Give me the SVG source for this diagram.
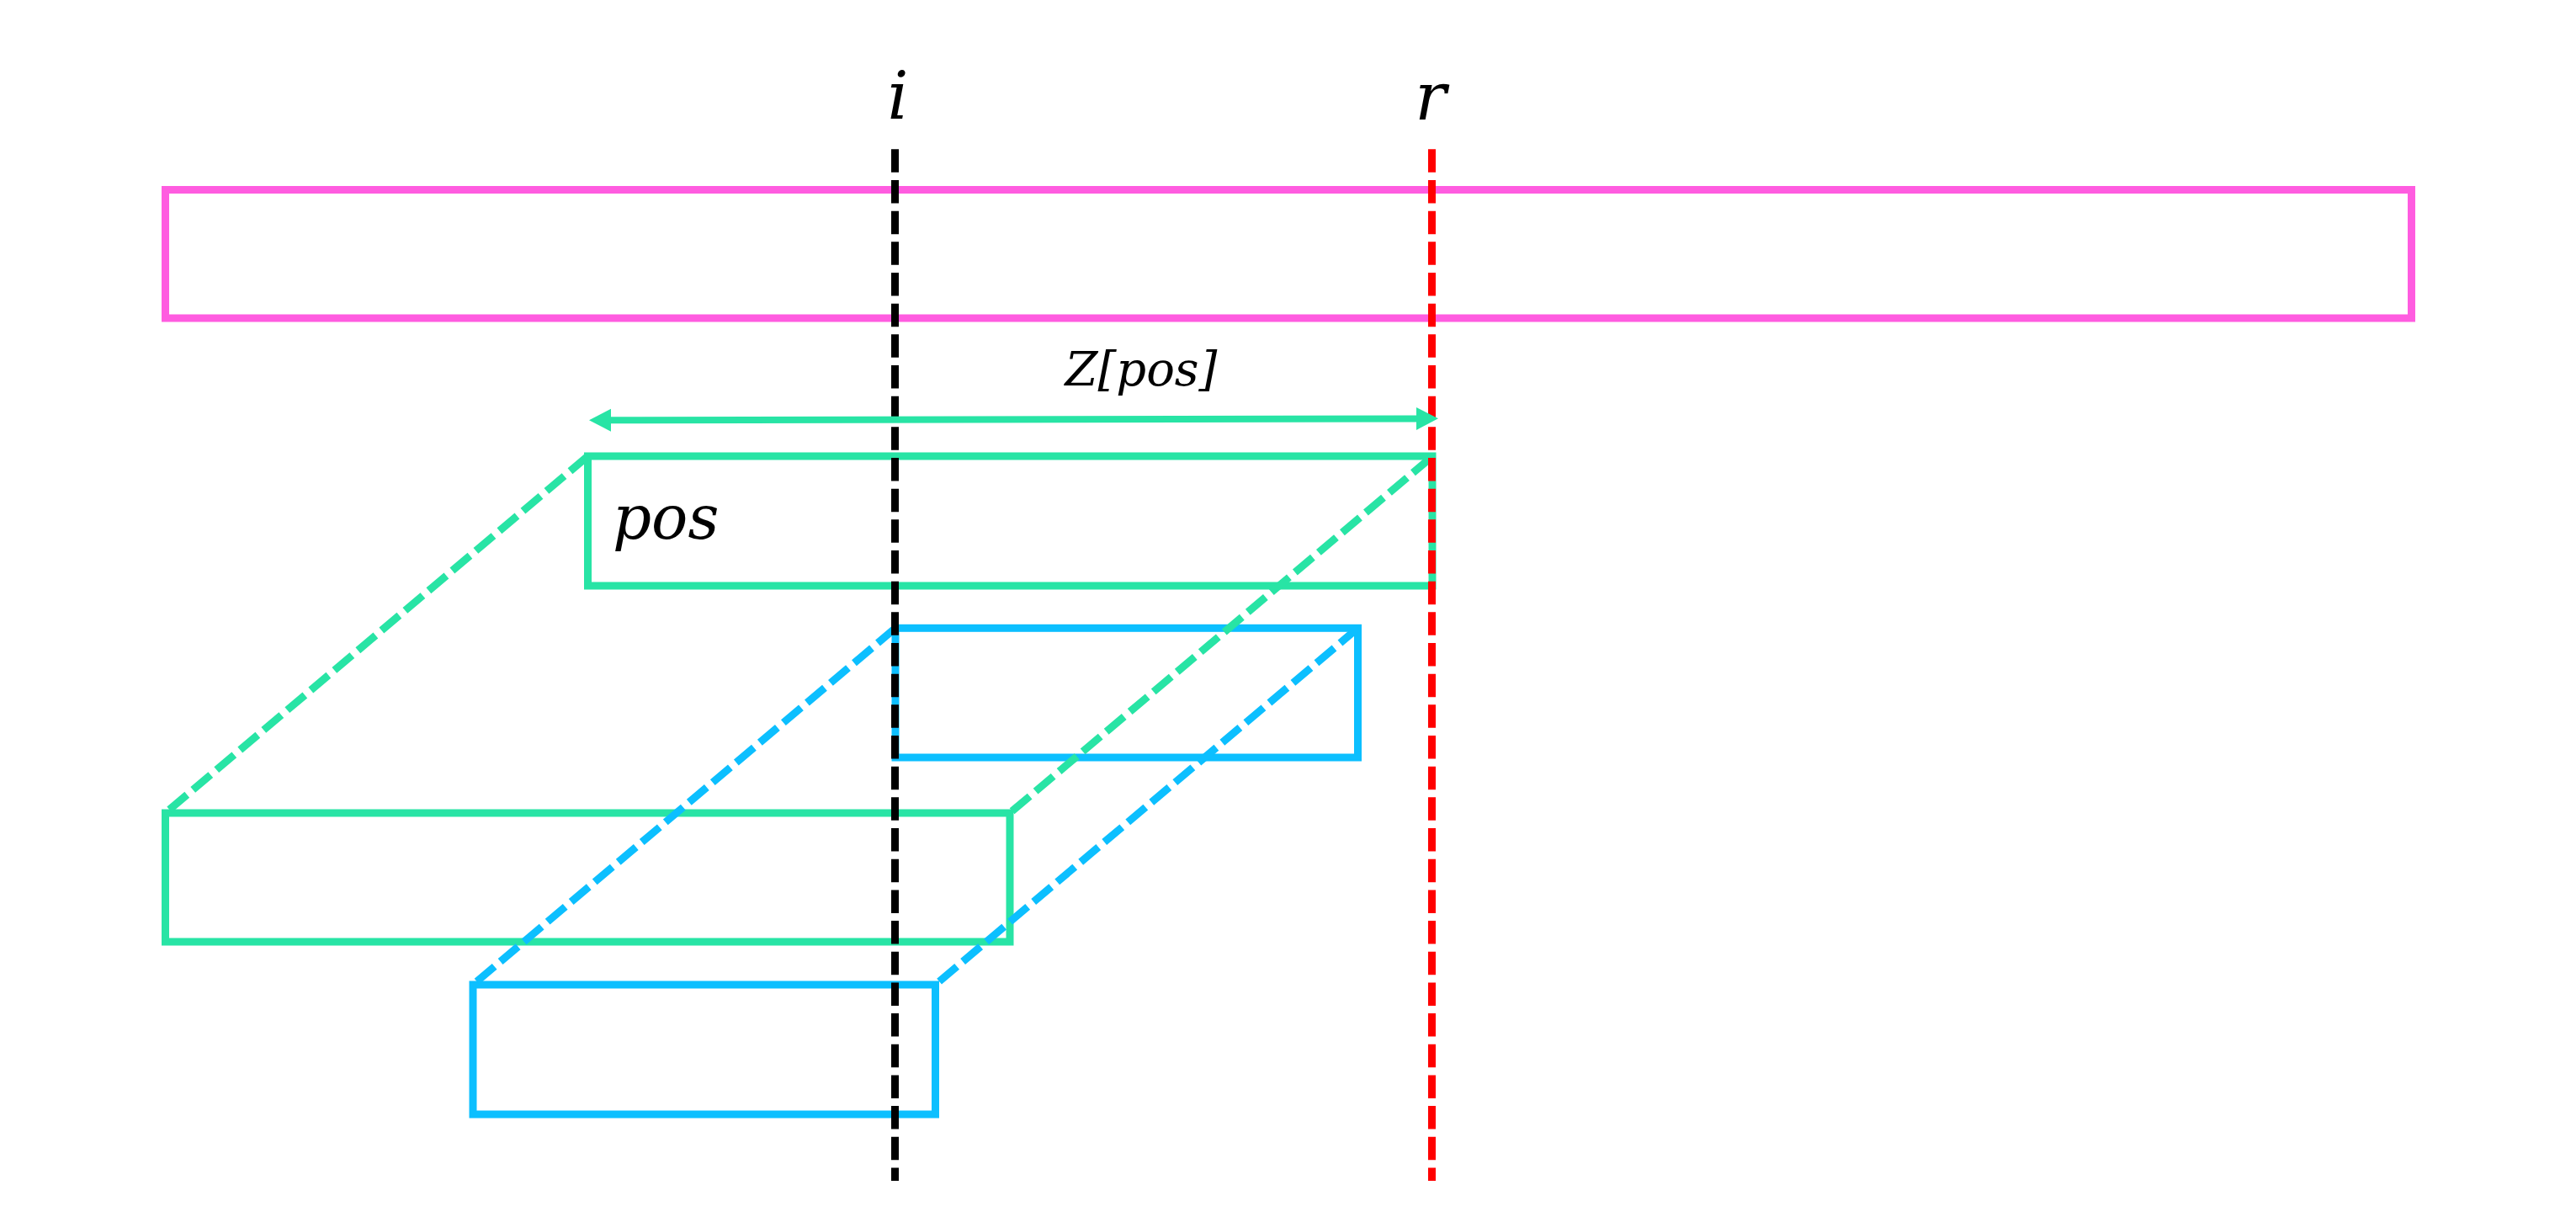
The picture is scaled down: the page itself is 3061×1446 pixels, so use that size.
<svg xmlns="http://www.w3.org/2000/svg" width="3061" height="1446" viewBox="0 0 3061 1446">
  <style>
    .box { fill: none; stroke-width: 9; }
    .pink { stroke: #FF5CE0; }
    .green { stroke: #28E4A5; }
    .blue { stroke: #0CBFFF; }
    .dash { fill: none; stroke-width: 9; stroke-dasharray: 27.5 9.17; }
  </style>
  <defs>
    <marker id="head" markerUnits="userSpaceOnUse" markerWidth="28" markerHeight="28" refX="0" refY="13.5" orient="auto-start-reverse" viewBox="0 0 28 27">
      <path d="M0,0 L26,13.5 L0,27 Z" fill="#28E4A5"/>
    </marker>
  </defs>
  <rect width="3061" height="1446" fill="#FFFFFF"/>

  <g id="nodes">
    <g id="string-bar"><rect class="box pink" x="196.5" y="225.5" width="2669" height="152.5"/></g>
    <g id="green-top"><rect class="box green" x="698.5" y="542" width="1003.5" height="154"/></g>
    <g id="green-bottom"><rect class="box green" x="196.5" y="966" width="1003.5" height="153"/></g>
    <g id="blue-top"><rect class="box blue" x="1064" y="746.3" width="549.5" height="153.7"/></g>
    <g id="blue-bottom"><rect class="box blue" x="562" y="1170" width="549.5" height="154"/></g>
  </g>

  <g id="connectors">
    <line class="dash green" x1="698.5" y1="542" x2="196.5" y2="966"/>
    <line class="dash green" x1="1700" y1="544" x2="1200" y2="966"/>
    <line class="dash blue" x1="1064" y1="746.3" x2="562" y2="1170"/>
    <line class="dash blue" x1="1613.5" y1="746.3" x2="1111.5" y2="1170"/>
    <line class="dash" stroke="#FF0000" x1="1701.5" y1="177.3" x2="1701.5" y2="1403"/>
    <line class="dash" stroke="#000000" x1="1063.5" y1="177.3" x2="1063.5" y2="1403"/>
    <line x1="726" y1="499.2" x2="1683" y2="497.4" stroke="#28E4A5" stroke-width="8" marker-start="url(#head)" marker-end="url(#head)"/>
  </g>

  <g id="labels" font-family="'DejaVu Serif', 'Liberation Serif', serif" font-style="italic" fill="#000000">
    <text x="1067" y="141" font-size="78" text-anchor="middle">i</text>
    <text x="1700" y="142" font-size="78" text-anchor="middle">r</text>
    <text x="1356" y="458" font-size="56" text-anchor="middle">Z[pos]</text>
    <text x="728" y="640" font-size="72">pos</text>
  </g>
</svg>
